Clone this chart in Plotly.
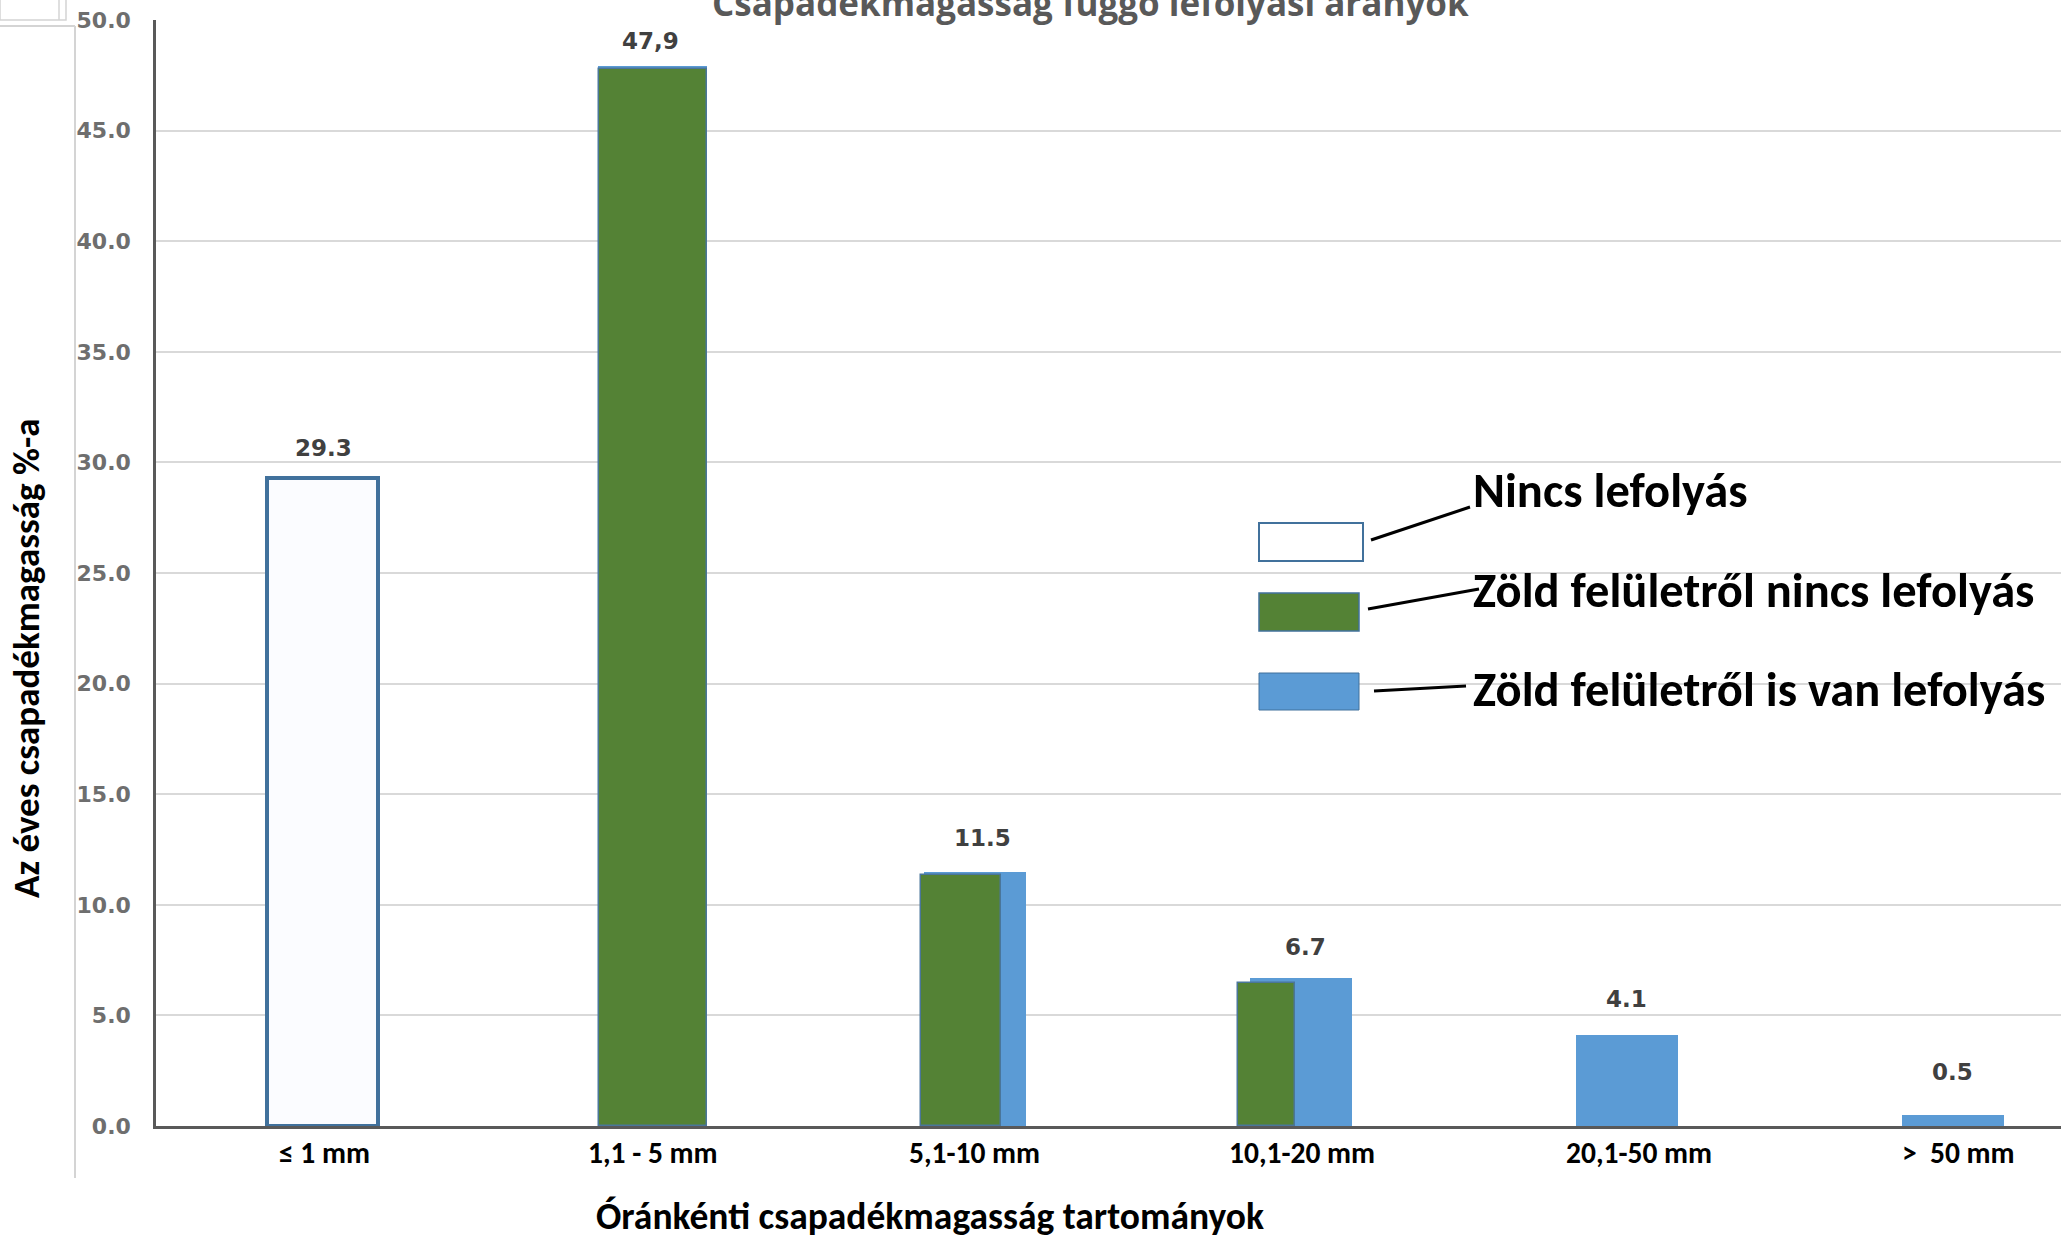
import plotly.graph_objects as go

# ---- data -------------------------------------------------------------
categories = ["≤ 1 mm", "1,1 - 5 mm", "5,1-10 mm", "10,1-20 mm", "20,1-50 mm", ">  50 mm"]

no_runoff = [29.3, None, None, None, None, None]            # Nincs lefolyás
green_no_runoff = [None, 47.8, 11.35, 6.45, None, None]      # Zöld felületről nincs lefolyás
green_runoff = [None, 47.9, 11.5, 6.7, 4.1, 0.5]             # Zöld felületről is van lefolyás

label_values = [29.3, 47.9, 11.5, 6.7, 4.1, 0.5]
label_texts = ["29.3", "47,9", "11.5", "6.7", "4.1", "0.5"]

y_ticks = [0, 5, 10, 15, 20, 25, 30, 35, 40, 45, 50]

legend_names = ["Nincs lefolyás", "Zöld felületről nincs lefolyás", "Zöld felületről is van lefolyás"]

title_text = "Csapadékmagasság függő lefolyási arányok"
x_title = "Óránkénti csapadékmagasság tartományok"
y_title = "Az éves csapadékmagasság %-a"

# ---- styling ----------------------------------------------------------
W, H = 2061, 1238
PL, PR, PT, PB = 156, 2061, 20, 1126   # plot area in pixels

WHITE_FILL = "#fbfcff"
OUTLINE = "#41719c"
GREEN = "#548235"
BLUE = "#5b9bd5"
AXIS = "#595959"
GRID = "#d9d9d9"

CALIBRI_LIKE = "Carlito, Roboto, sans-serif"

label_lift = [30, 25, 34, 31, 36, 43]
label_nudge = [4, 5, 11, 8, 3, 3]
tick_nudge = [5, 8, 3, 5, 16, 9]


def px_x(x):
    return (x - PL) / (PR - PL)


def px_y(y):
    return (PB - y) / (PB - PT)


fig = go.Figure()

fig.add_trace(go.Bar(
    x=categories, y=green_runoff, name=legend_names[2],
    marker=dict(color=BLUE, line=dict(width=0)),
    offset=[-0.144] * 6, width=[0.313, 0.334, 0.313, 0.313, 0.313, 0.313],
    opacity=1, showlegend=False,
))
fig.add_trace(go.Bar(
    x=categories, y=green_no_runoff, name=legend_names[1],
    marker=dict(color=GREEN, line=dict(color="#4a769a", width=1.5)),
    offset=[0, -0.141, -0.153, -0.181, 0, 0], width=[0.3, 0.33, 0.245, 0.175, 0.3, 0.3],
    opacity=1, showlegend=False,
))
fig.add_trace(go.Bar(
    x=categories, y=no_runoff, name=legend_names[0],
    marker=dict(color=WHITE_FILL, line=dict(color=OUTLINE, width=4)),
    offset=-0.16, width=0.34,
    opacity=1, showlegend=False,
))

annotations = []

# value labels above the bars
for cat, val, txt, lift, nudge in zip(categories, label_values, label_texts, label_lift, label_nudge):
    annotations.append(dict(
        x=cat, y=val, xref="x", yref="y", text=f"<b>{txt}</b>", showarrow=False,
        yanchor="middle", yshift=lift, xshift=nudge,
        font=dict(family="DejaVu Sans", size=23, color="#404040"),
    ))

# category labels under the axis
for cat, nudge in zip(categories, tick_nudge):
    annotations.append(dict(
        x=cat, y=px_y(1153), xref="x", yref="paper", text=f"<b>{cat}</b>", showarrow=False,
        xanchor="center", yanchor="middle", xshift=nudge,
        font=dict(family=CALIBRI_LIKE, size=29.5, color="black"),
    ))

# chart title (partly above the page edge, white box over the top gridline)
annotations.append(dict(
    x=px_x(1090), y=px_y(27), xref="paper", yref="paper", text=f"<b>{title_text}</b>",
    showarrow=False, xanchor="center", yanchor="bottom", bgcolor="white", borderpad=0,
    font=dict(family="Open Sans", size=35, color="#595959"),
))

# axis titles
annotations.append(dict(
    x=px_x(930), y=px_y(1216), xref="paper", yref="paper", text=f"<b>{x_title}</b>",
    showarrow=False, xanchor="center", yanchor="middle",
    font=dict(family=CALIBRI_LIKE, size=37.5, color="black"),
))
annotations.append(dict(
    x=px_x(26), y=px_y(658), xref="paper", yref="paper", text=f"<b>{y_title}</b>",
    showarrow=False, xanchor="center", yanchor="middle", textangle=-90,
    font=dict(family=CALIBRI_LIKE, size=37, color="black"),
))

# hand-drawn legend: swatches, leader lines and texts
swatches = [
    dict(x0=1259, x1=1363, y0=523, y1=561, fill="white", line=OUTLINE, lw=2),
    dict(x0=1259, x1=1359, y0=593, y1=631, fill=GREEN, line=OUTLINE, lw=1.5),
    dict(x0=1259, x1=1359, y0=673, y1=710, fill=BLUE, line=OUTLINE, lw=1),
]
leaders = [((1371, 540), (1470, 507)), ((1368, 609), (1479, 589)), ((1374, 691), (1466, 686))]
legend_text_y = [491, 590, 689]

shapes = []
for sw in swatches:
    shapes.append(dict(
        type="rect", xref="paper", yref="paper",
        x0=px_x(sw["x0"]), x1=px_x(sw["x1"]), y0=px_y(sw["y1"]), y1=px_y(sw["y0"]),
        fillcolor=sw["fill"], line=dict(color=sw["line"], width=sw["lw"]), layer="above",
    ))
for (a, b) in leaders:
    shapes.append(dict(
        type="line", xref="paper", yref="paper",
        x0=px_x(a[0]), y0=px_y(a[1]), x1=px_x(b[0]), y1=px_y(b[1]),
        line=dict(color="black", width=3), layer="above",
    ))
for name, ty in zip(legend_names, legend_text_y):
    annotations.append(dict(
        x=px_x(1471), y=px_y(ty), xref="paper", yref="paper", text=f"<b>{name}</b>",
        showarrow=False, xanchor="left", yanchor="middle",
        font=dict(family=CALIBRI_LIKE, size=48.5, color="black"),
    ))

# faint sheet edges on the left side
shapes.append(dict(type="line", xref="paper", yref="paper",
                   x0=px_x(75), x1=px_x(75), y0=px_y(26), y1=px_y(1178),
                   line=dict(color="#d4d4d4", width=2)))
shapes.append(dict(type="line", xref="paper", yref="paper",
                   x0=px_x(0), x1=px_x(75), y0=px_y(26), y1=px_y(26),
                   line=dict(color="#d4d4d4", width=2)))
shapes.append(dict(type="rect", xref="paper", yref="paper",
                   x0=px_x(0), x1=px_x(66), y0=px_y(20), y1=px_y(-2),
                   line=dict(color="#d4d4d4", width=1.5)))
shapes.append(dict(type="line", xref="paper", yref="paper",
                   x0=px_x(59), x1=px_x(59), y0=px_y(20), y1=px_y(0),
                   line=dict(color="#d4d4d4", width=1.5)))

fig.update_layout(
    width=W, height=H,
    margin=dict(l=PL, r=W - PR, t=PT, b=H - PB, autoexpand=False),
    paper_bgcolor="white", plot_bgcolor="white",
    barmode="overlay", bargap=0,
    showlegend=False,
    annotations=annotations, shapes=shapes,
    xaxis=dict(
        type="category", range=[-0.5, (PR - PL) / 326 - 0.5],
        showgrid=False, showline=True, linecolor=AXIS, linewidth=3,
        ticks="", showticklabels=False,
        zeroline=False,
    ),
    yaxis=dict(
        range=[0, 50], tickvals=y_ticks, tickformat=".1f",
        showgrid=True, gridcolor=GRID, gridwidth=2,
        showline=True, linecolor=AXIS, linewidth=2.5,
        ticks="", ticklabelstandoff=18,
        tickfont=dict(family="DejaVu Sans", size=22, color="#6e6e6e", weight="bold"),
        zeroline=False,
    ),
)

fig.write_html("out.html")
